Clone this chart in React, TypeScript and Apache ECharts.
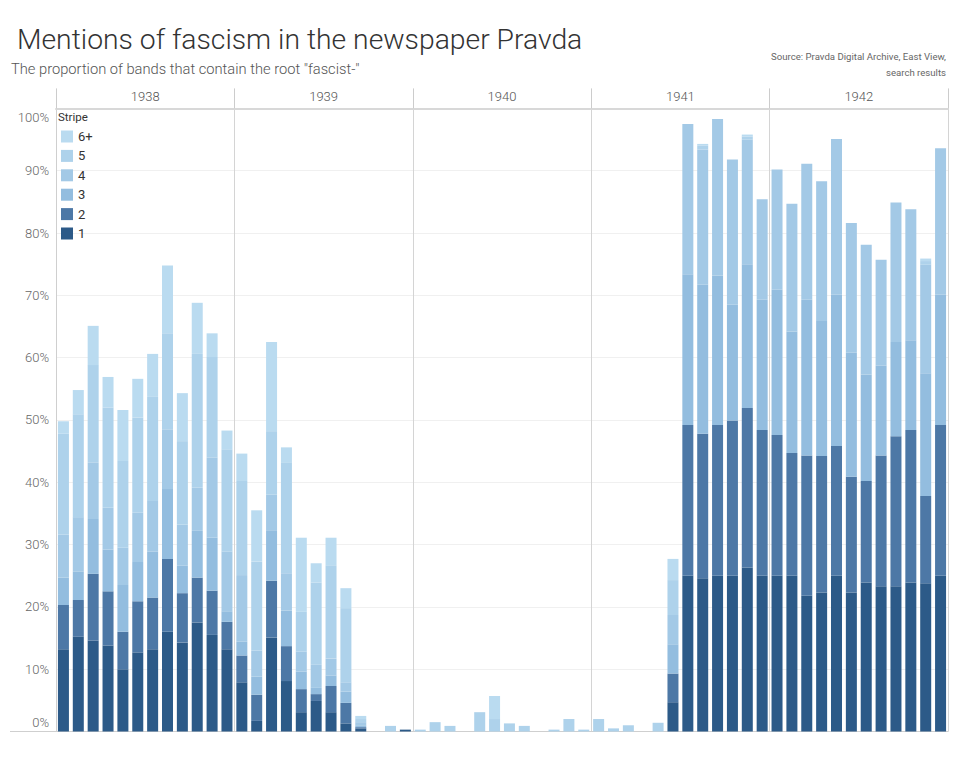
import React, { useEffect, useRef } from "react";
import * as echarts from "echarts";

const years = ["1938", "1939", "1940", "1941", "1942"];
const months = ["01", "02", "03", "04", "05", "06", "07", "08", "09", "10", "11", "12"];
const stripes = ["1", "2", "3", "4", "5", "6+"];
const stripeColors = ["#2c5a88", "#4d78a6", "#93bddf", "#a3c9e6", "#aed2eb", "#badbf0"];
const yTicks = [0, 10, 20, 30, 40, 50, 60, 70, 80, 90, 100];

const stripe1 = [
  13.2, 15.2, 14.6, 13.8, 10.0, 12.7, 13.2, 16.0, 14.3, 17.5, 15.5, 13.2,
  7.9, 1.7, 15.1, 8.1, 3.1, 4.9, 3.1, 1.3, 0.5, 0, 0, 0.3,
  0, 0, 0, 0, 0, 0, 0, 0, 0, 0, 0, 0,
  0, 0, 0, 0, 0, 4.7, 25.0, 24.6, 25.0, 25.0, 26.3, 25.0,
  25.0, 25.0, 21.8, 22.3, 25.0, 22.3, 23.9, 23.3, 23.3, 23.9, 23.8, 25.0,
];
const stripe2 = [
  7.1, 5.9, 10.7, 8.7, 6.0, 8.2, 8.3, 11.7, 7.9, 7.2, 7.1, 4.4,
  4.3, 4.2, 9.1, 5.6, 3.7, 1.1, 4.2, 3.3, 0.2, 0, 0, 0,
  0, 0, 0, 0, 0, 0, 0, 0, 0, 0, 0, 0,
  0, 0, 0, 0, 0, 4.6, 24.2, 23.2, 24.2, 24.9, 25.6, 23.4,
  22.6, 19.7, 22.5, 21.9, 20.8, 18.6, 16.3, 21.0, 24.1, 24.5, 14.0, 24.2,
];
const stripe3 = [
  4.4, 4.6, 8.8, 6.7, 7.5, 6.3, 7.4, 11.2, 4.4, 7.5, 8.5, 1.7,
  2.2, 2.9, 8.1, 5.7, 2.8, 1.0, 1.7, 1.8, 0.3, 0, 0, 0,
  0, 0, 0, 0, 0, 0, 0, 0, 0, 0, 0, 0,
  0, 0, 0, 0, 0, 4.7, 24.2, 23.9, 24.0, 18.6, 23.1, 20.9,
  23.3, 19.5, 25.0, 21.7, 24.3, 19.9, 17.1, 14.4, 15.1, 14.4, 19.7, 20.9,
];
const stripe4 = [
  6.9, 8.7, 9.1, 6.7, 6.0, 7.9, 8.1, 9.6, 6.6, 6.9, 12.9, 9.6,
  10.7, 4.2, 5.7, 6.0, 3.2, 3.7, 2.7, 1.5, 0.5, 0, 0, 0,
  0, 0, 0, 0, 0, 0, 0, 0, 0, 0, 0, 0,
  0, 0, 0, 0, 0, 4.7, 24.1, 21.7, 25.1, 23.3, 20.0, 16.1,
  19.3, 20.5, 21.8, 22.4, 25.0, 20.8, 20.8, 17.0, 22.4, 21.0, 17.4, 23.5,
];
const stripe5 = [
  16.2, 16.5, 15.6, 16.1, 13.9, 15.3, 16.7, 15.4, 13.4, 21.5, 16.1, 16.4,
  15.1, 14.3, 10.2, 17.8, 6.4, 13.2, 15.0, 11.9, 0.5, 0, 0.9, 0,
  0.3, 1.5, 0.9, 0, 3.1, 2.0, 1.3, 0.9, 0, 0.3, 2.0, 0.3,
  2.0, 0.5, 1.0, 0, 1.4, 5.6, 0, 0.6, 0, 0, 0.5, 0,
  0, 0, 0, 0, 0, 0, 0, 0, 0, 0, 0.6, 0,
];
const stripe6 = [
  2.0, 3.9, 6.3, 4.9, 8.2, 6.2, 6.9, 10.9, 7.7, 8.2, 3.8, 3.0,
  4.4, 8.2, 14.3, 2.4, 11.9, 3.1, 4.4, 3.2, 0.5, 0, 0, 0,
  0, 0, 0, 0, 0, 3.7, 0, 0, 0, 0, 0, 0,
  0, 0, 0, 0, 0, 3.4, 0, 0.3, 0, 0, 0.3, 0,
  0, 0, 0, 0, 0, 0, 0, 0, 0, 0, 0.4, 0,
];

const stripeValues = [stripe1, stripe2, stripe3, stripe4, stripe5, stripe6];
const categories = years.flatMap((y) => months.map((m) => `${y}-${m}`));

const FONT = "Roboto, 'Noto Sans', sans-serif";

export default function App() {
  const ref = useRef<HTMLDivElement>(null);

  useEffect(() => {
    if (!ref.current) return;
    const chart = echarts.init(ref.current, undefined, { renderer: "svg" });
    const option: any = {
      animation: false,
      backgroundColor: "#ffffff",
      textStyle: { fontFamily: FONT },
      title: [
        {
          text: "Mentions of fascism in the newspaper Pravda",
          left: 12,
          top: 20,
          textStyle: { fontSize: 28.3, fontWeight: 300, color: "#333", fontFamily: FONT },
        },
        {
          text: 'The proportion of bands that contain the root "fascist-"',
          left: 6,
          top: 56,
          textStyle: { fontSize: 14.7, fontWeight: 300, color: "#555", fontFamily: FONT },
        },
      ],
      graphic: [
        {
          type: "text",
          right: 14,
          top: 51,
          style: {
            text: "Source: Pravda Digital Archive, East View,",
            fontSize: 9.6,
            fill: "#666",
            fontFamily: FONT,
          },
        },
        {
          type: "text",
          right: 14,
          top: 67,
          style: {
            text: "search results",
            fontSize: 9.6,
            fill: "#666",
            fontFamily: FONT,
          },
        },
        {
          type: "text",
          left: 58,
          top: 111,
          style: { text: "Stripe", fontSize: 11.5, fill: "#333", fontFamily: FONT },
        },
        {
          type: "line",
          shape: { x1: 10, y1: 731.5, x2: 56, y2: 731.5 },
          style: { stroke: "#cfcfcf", lineWidth: 1 },
        },
      ],
      legend: {
        orient: "vertical",
        left: 61,
        top: 130,
        padding: 0,
        itemWidth: 12,
        itemHeight: 12,
        itemGap: 6.4,
        icon: "rect",
        data: ["6+", "5", "4", "3", "2", "1"],
        textStyle: { fontSize: 13, color: "#333", fontFamily: FONT },
        selectedMode: false,
      },
      grid: { left: 56, right: 12, top: 108.4, bottom: 36.5 },
      xAxis: [
        {
          type: "category",
          data: categories,
          position: "bottom",
          axisLine: { show: true, lineStyle: { color: "#cfcfcf" } },
          axisTick: { show: false },
          axisLabel: { show: false },
          splitLine: { show: false },
        },
        {
          type: "category",
          data: years,
          position: "top",
          axisLine: { show: true, lineStyle: { color: "#d8d8d8", width: 2 } },
          axisTick: { show: true, length: 20, inside: false, lineStyle: { color: "#cccccc" } },
          axisLabel: { show: true, color: "#555", fontSize: 13, fontWeight: 300, margin: 5, fontFamily: FONT },
          splitLine: { show: true, lineStyle: { color: "#d4d4d4", width: 1 } },
        },
      ],
      yAxis: {
        type: "value",
        min: 0,
        max: 100,
        interval: 10,
        axisLine: { show: true, lineStyle: { color: "#cfcfcf" } },
        axisTick: { show: false },
        axisLabel: {
          formatter: (v: number) => (yTicks.includes(v) ? `${v}%` : ""),
          color: "#666",
          fontSize: 13,
          fontWeight: 300,
          margin: 7,
          fontFamily: FONT,
          verticalAlignMaxLabel: "top",
          verticalAlignMinLabel: "bottom",
          padding: [3, 0, 3, 0],
        },
        splitLine: { show: true, lineStyle: { color: "#f0f0f0" } },
      },
      series: stripes.map((name, i) => ({
        name,
        type: "bar",
        stack: "total",
        xAxisIndex: 0,
        barCategoryGap: "26%",
        itemStyle: { color: stripeColors[i] },
        emphasis: { disabled: true },
        data: stripeValues[i],
      })),
    };
    chart.setOption(option);
    return () => chart.dispose();
  }, []);

  return (
    <div
      ref={ref}
      style={{ position: "absolute", left: 0, top: 0, width: 960, height: 768 }}
    />
  );
}
